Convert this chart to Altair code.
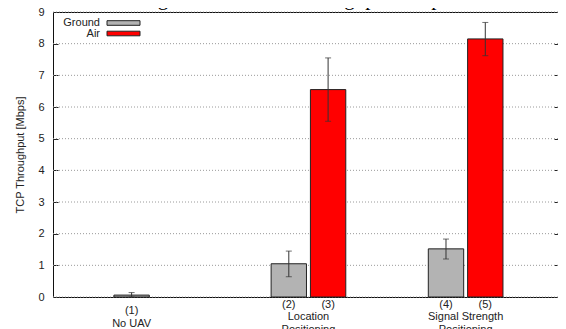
import altair as alt
import pandas as pd

# ---------------- data ----------------
bar_ids = ["(1)", "(2)", "(3)", "(4)", "(5)"]
bar_pos = [2, 6, 7, 10, 11]
bar_series = ["Ground", "Ground", "Air", "Ground", "Air"]
throughput = [0.06, 1.05, 6.55, 1.52, 8.15]
err_low = [0.0, 0.64, 5.55, 1.20, 7.62]
err_high = [0.14, 1.45, 7.55, 1.83, 8.67]

group_pos = [2, 6.5, 10.5]
group_labels = ["(1)\nNo UAV", "Location\nPositioning", "Signal Strength\nPositioning"]

y_ticks = list(range(0, 10))
series_names = ["Ground", "Air"]
series_colors = ["#b3b3b3", "#ff0000"]

caption = "Fig. 6: End-to-end throughput setup"

FONT = "Liberation Sans"

bars_df = pd.DataFrame({
    "id": bar_ids, "pos": bar_pos, "series": bar_series,
    "value": throughput, "lo": err_low, "hi": err_high,
})
groups_df = pd.DataFrame({"pos": group_pos, "label": group_labels})
ticks_df = pd.DataFrame({"v": y_ticks})

x_scale = alt.Scale(domain=[0, 12.85], nice=False, zero=False)
y_scale = alt.Scale(domain=[0, 9], nice=False, zero=True)

# grid + right-side inward ticks
grid = alt.Chart(ticks_df).mark_rule(
    color="#9a9a9a", strokeDash=[1, 2], strokeWidth=1
).encode(
    y=alt.Y("v:Q", scale=y_scale,
            axis=alt.Axis(orient="right", values=y_ticks, labels=False, title=None,
                          grid=False, domain=False, ticks=True, tickSize=4,
                          offset=-4, tickColor="#222"))
)

bars = alt.Chart(bars_df).transform_calculate(
    x0="datum.pos - 0.45", x1="datum.pos + 0.45", base="0"
).mark_rect(stroke="#222", strokeWidth=1).encode(
    x=alt.X("x0:Q", scale=x_scale, axis=None),
    x2="x1:Q",
    y=alt.Y("value:Q", scale=y_scale,
            axis=alt.Axis(orient="left", values=y_ticks, title="TCP Throughput [Mbps]",
                          grid=False, domain=False, ticks=True, tickSize=5, offset=-5,
                          tickColor="#222", labelPadding=9, labelFont=FONT,
                          labelFontSize=11, labelColor="#222", titleFont=FONT,
                          titleFontSize=11, titleFontWeight="normal", titleColor="#222",
                          titlePadding=12)),
    y2="base:Q",
    fill=alt.Fill("series:N", scale=alt.Scale(domain=series_names, range=series_colors),
                  legend=None),
)

err = alt.Chart(bars_df).mark_rule(color="#333", strokeWidth=1).encode(
    x=alt.X("pos:Q", scale=x_scale, axis=None),
    y=alt.Y("lo:Q", scale=y_scale, axis=None),
    y2="hi:Q",
)
cap_hi = alt.Chart(bars_df).mark_tick(orient="horizontal", size=6, thickness=1, color="#333").encode(
    x=alt.X("pos:Q", scale=x_scale, axis=None),
    y=alt.Y("hi:Q", scale=y_scale, axis=None),
)
cap_lo = alt.Chart(bars_df).mark_tick(orient="horizontal", size=6, thickness=1, color="#333").encode(
    x=alt.X("pos:Q", scale=x_scale, axis=None),
    y=alt.Y("lo:Q", scale=y_scale, axis=None),
)

y_zero = alt.YDatum(0, scale=y_scale, axis=None)

ids = alt.Chart(bars_df).transform_filter("datum.id != '(1)'").mark_text(
    font=FONT, fontSize=11, color="#222", baseline="alphabetic", dy=11
).encode(
    x=alt.X("pos:Q", scale=x_scale, axis=None),
    y=y_zero,
    text="id:N",
)

first_group = alt.Chart(groups_df).transform_filter("datum.pos == 2").mark_text(
    font=FONT, fontSize=11, color="#222", baseline="alphabetic", dy=17,
    lineBreak="\n", lineHeight=13
).encode(
    x=alt.X("pos:Q", scale=x_scale, axis=None),
    y=y_zero,
    text="label:N",
)
other_groups = alt.Chart(groups_df).transform_filter("datum.pos != 2").mark_text(
    font=FONT, fontSize=11, color="#222", baseline="alphabetic", dy=23,
    lineBreak="\n", lineHeight=12.5
).encode(
    x=alt.X("pos:Q", scale=x_scale, axis=None),
    y=y_zero,
    text="label:N",
)

# legend (top-left, inside the frame, label left of swatch)
legend_layers = []
for i, (name, col) in enumerate(zip(series_names, series_colors)):
    row = 11 + i * 10.5
    legend_layers.append(
        alt.Chart(pd.DataFrame({"s": [name]})).mark_text(
            font=FONT, fontSize=11, color="#222", align="right", baseline="middle"
        ).encode(x=alt.value(47), y=alt.value(row), text="s:N")
    )
    legend_layers.append(
        alt.Chart(pd.DataFrame({"s": [name]})).mark_rect(
            fill=col, stroke="#222", strokeWidth=1
        ).encode(x=alt.value(54), x2=alt.value(87), y=alt.value(row - 2.3), y2=alt.value(row + 2.3))
    )

title_text = alt.Chart(pd.DataFrame({"t": [caption]})).mark_text(
    font="Liberation Serif", fontSize=21, color="#000", baseline="alphabetic", align="center"
).encode(x=alt.value(238), y=alt.value(-6.7), text="t:N")

chart = alt.layer(
    grid, bars, err, cap_hi, cap_lo, ids, first_group, other_groups, title_text, *legend_layers
).resolve_axis(y="independent").properties(
    width=505, height=285,
    autosize=alt.AutoSizeParams(type="none"),
    padding={"left": 45, "top": 4, "right": 0, "bottom": 40},
).configure_view(stroke="#111", strokeWidth=1)

chart.save("out.html", embed_options={"renderer": "svg", "actions": False})
